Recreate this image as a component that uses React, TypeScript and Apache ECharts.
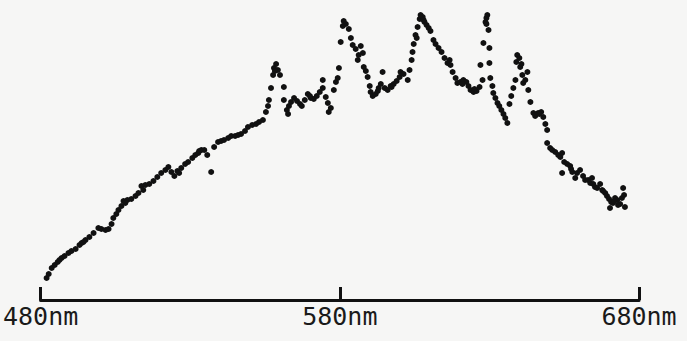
import React, { useEffect, useRef } from "react";
import * as echarts from "echarts";

// wavelength (nm) of each recorded dot
const wavelengths: number[] = [
  482.0, 482.7, 483.7, 484.7, 485.7, 487.0, 488.0, 489.3, 490.3, 491.7, 493.0, 493.7, 495.0, 496.3, 497.7, 499.3,
  500.3, 501.7, 502.7, 503.7, 504.3, 505.3, 506.0, 507.0, 507.7, 509.0, 510.3, 511.7, 512.7, 513.7, 515.0, 516.3,
  517.7, 519.0, 520.3, 521.7, 522.7, 523.7, 524.7, 525.7, 527.0, 528.3, 529.3, 530.7, 531.7, 532.7, 533.7, 534.7,
  535.7, 537.0, 538.0, 539.3, 540.3, 541.3, 542.7, 543.7, 545.0, 547.0, 548.3, 549.3, 550.7, 552.0, 553.0, 554.3,
  555.3, 556.0, 556.3, 557.0, 557.7, 558.0, 558.7, 559.3, 560.0, 561.3, 561.3, 562.3, 562.7, 563.7, 564.7, 565.7,
  566.7, 567.3, 568.3, 569.3, 570.3, 571.3, 572.3, 573.3, 574.3, 574.3, 575.3, 576.0, 576.3, 577.0, 578.0, 578.7,
  579.3, 579.7, 580.3, 581.0, 581.3, 582.0, 583.0, 583.7, 584.3, 585.3, 586.0, 587.0, 587.7, 588.0, 588.7, 589.3,
  590.0, 590.3, 591.0, 592.0, 593.0, 593.7, 594.3, 595.0, 596.0, 597.0, 598.0, 599.0, 600.0, 600.3, 601.3, 602.7,
  603.3, 604.0, 604.3, 604.7, 605.3, 606.0, 606.7, 607.0, 607.7, 608.3, 609.0, 609.7, 610.3, 611.3, 612.0, 613.0,
  614.0, 615.0, 616.0, 617.0, 617.7, 618.7, 619.3, 620.3, 621.3, 622.3, 623.0, 623.7, 624.7, 625.7, 626.7, 627.0,
  627.7, 628.0, 628.7, 629.0, 629.3, 629.7, 630.0, 630.0, 630.3, 631.0, 631.3, 632.0, 632.7, 633.3, 634.0, 634.7,
  635.3, 636.0, 636.7, 637.3, 638.0, 638.7, 639.0, 639.3, 640.0, 640.3, 641.0, 641.3, 642.0, 642.7, 643.0, 643.7,
  644.7, 645.3, 646.3, 647.3, 648.0, 648.7, 649.3, 649.3, 650.3, 651.0, 652.0, 653.0, 653.7, 654.3, 654.3, 655.0,
  656.0, 657.0, 657.7, 658.7, 659.3, 660.3, 661.3, 662.0, 663.0, 663.7, 664.3, 665.3, 666.0, 667.0, 667.7, 668.7,
  669.3, 670.0, 670.7, 671.3, 672.0, 672.7, 673.7, 674.3, 674.7, 675.0, 675.3, 670.3,
  // denser clusters
  486.3, 494.3, 508.3, 514.3, 526.3, 533.0, 546.0, 558.3, 563.0, 570.0, 586.3, 592.7, 597.3, 605.7, 608.0, 616.7,
  621.0, 625.0, 629.0, 640.7, 646.7, 657.3, 664.7, 668.0, 671.7, 673.0,
];

// relative intensity of each dot (arbitrary units)
const intensities: number[] = [
  22, 26, 32, 35, 38, 42, 44, 47, 49, 51, 55, 57, 60, 63, 67, 72,
  71, 70, 71, 76, 82, 86, 90, 94, 99, 100, 101, 104, 107, 114, 115, 116,
  119, 123, 127, 130, 133, 128, 124, 129, 132, 136, 138, 142, 145, 147, 150, 150,
  145, 128, 153, 158, 159, 160, 162, 164, 164, 166, 169, 173, 175, 176, 178, 180,
  188, 194, 200, 212, 225, 232, 236, 230, 225, 213, 200, 190, 186, 198, 202, 199,
  196, 194, 200, 206, 202, 201, 204, 208, 220, 212, 203, 197, 188, 192, 210, 218,
  222, 232, 258, 274, 279, 276, 271, 262, 255, 251, 240, 254, 247, 233, 229, 223,
  214, 208, 204, 206, 212, 216, 228, 212, 210, 214, 216, 219, 223, 228, 226, 220,
  230, 240, 248, 256, 265, 273, 281, 285, 283, 278, 275, 272, 269, 260, 256, 252,
  248, 242, 237, 235, 228, 222, 217, 218, 220, 218, 214, 210, 208, 209, 213, 235,
  220, 257, 278, 282, 285, 270, 252, 237, 222, 214, 207, 202, 197, 194, 190, 186,
  182, 177, 196, 204, 212, 220, 238, 245, 242, 233, 225, 217, 220, 228, 210, 198,
  187, 184, 187, 188, 183, 176, 170, 157, 152, 150, 148, 145, 143, 147, 127, 138,
  136, 134, 128, 122, 127, 130, 124, 120, 120, 117, 122, 113, 112, 116, 110, 107,
  104, 101, 98, 97, 102, 100, 96, 102, 112, 105, 93, 92,
  40, 58, 97, 110, 127, 149, 165, 229, 194, 204, 245, 209, 213, 262, 280, 240,
  216, 211, 276, 236, 186, 131, 116, 109, 99, 95,
];

const tickValues: number[] = [480, 580, 680];
const tickUnit = "nm";

export default function App() {
  const ref = useRef<HTMLDivElement>(null);

  useEffect(() => {
    if (!ref.current) return;
    const chart = echarts.init(ref.current, null, { renderer: "svg" });
    const points = wavelengths.map((w, i) => [w, intensities[i]]);
    chart.setOption({
      animation: false,
      backgroundColor: "#f6f6f5",
      grid: { left: 39, right: 48, top: 10, bottom: 41 },
      xAxis: {
        type: "value",
        min: 480,
        max: 680,
        interval: 100,
        axisLine: { show: true, lineStyle: { color: "#111", width: 3 } },
        axisTick: { show: true, inside: true, length: 13, lineStyle: { color: "#111", width: 3 } },
        splitLine: { show: false },
        axisLabel: {
          show: true,
          margin: 4,
          color: "#1a1a1a",
          fontFamily: "DejaVu Sans Mono",
          fontSize: 25,
          formatter: (v: number) => (tickValues.includes(v) ? `${v}${tickUnit}` : ""),
        },
      },
      yAxis: {
        type: "value",
        min: 0,
        max: 290,
        show: false,
      },
      series: [
        {
          type: "scatter",
          data: points,
          symbol: "circle",
          symbolSize: 6,
          itemStyle: { color: "#111", opacity: 1 },
        },
      ],
    });
    return () => chart.dispose();
  }, []);

  return (
    <div
      ref={ref}
      style={{ position: "absolute", left: 0, top: 0, width: 687, height: 341 }}
    />
  );
}
